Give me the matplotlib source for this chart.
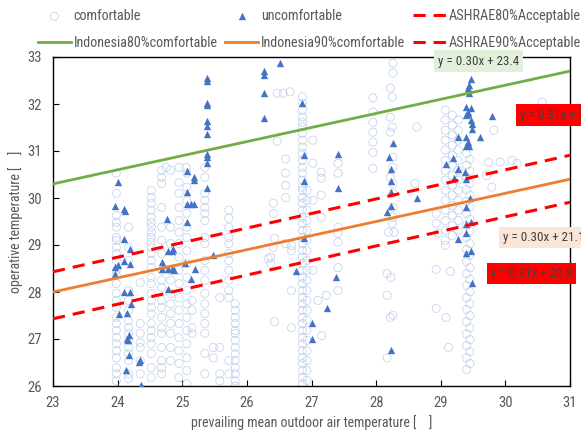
import matplotlib
matplotlib.use("Agg")
import matplotlib.pyplot as plt
from matplotlib import font_manager as fm
import numpy as np

names = {f.name for f in fm.fontManager.ttflist}
FAM = next((f for f in ['Liberation Sans Narrow', 'Roboto Condensed', 'Roboto', 'DejaVu Sans'] if f in names), 'DejaVu Sans')
plt.rcParams['font.family'] = [FAM, 'DejaVu Sans']

# ---------------- data ----------------
# comfortable votes: strips of (prevailing outdoor temp) -> operative temps
strip_x = [23.98, 24.17, 24.35, 24.52, 24.68, 24.82, 24.95, 25.07, 25.15, 25.35,
           25.48, 25.58, 25.72, 25.82, 26.86, 26.93, 27.41, 27.95, 29.07, 29.18,
           29.27, 29.40, 29.45]
s_2398 = [30.53, 30.10, 29.63, 29.48, 29.38, 29.16, 29.10, 28.95, 28.82, 28.67, 28.46, 28.35, 28.18,
          27.97, 27.82, 27.67, 27.46, 27.33, 27.18, 27.03, 26.90, 26.75, 26.60, 26.39, 26.26, 26.11]
s_2417 = [29.38, 28.95, 28.67, 28.03, 27.82, 27.61, 27.39, 27.24, 27.12, 26.97, 26.82, 26.69, 26.54, 26.26, 26.16]
s_2435 = [28.20, 27.33, 27.12, 26.92, 26.82, 26.54, 26.26]
s_2452 = [30.16, 30.01, 29.89, 29.74, 29.59, 29.48, 29.38, 29.27, 29.16, 29.06, 28.95, 28.82, 28.67, 28.52,
          28.31, 28.18, 27.97, 27.82, 27.67, 27.54, 27.33, 27.18, 27.03, 26.90, 26.69, 26.39, 26.18]
s_2468 = [30.59, 30.44, 30.31, 29.80, 29.38, 29.10, 28.82, 28.46, 28.25, 28.10, 27.82, 27.67, 27.46, 27.24,
          27.12, 26.82, 26.54, 26.39, 26.26]
s_2482 = [30.59, 29.38, 29.03, 28.46, 28.25, 27.97, 27.75, 27.54, 27.33, 27.12, 26.82, 26.54]
s_2495 = [30.65, 30.33, 30.10, 29.80, 29.52, 29.27, 29.03, 28.74, 28.46, 28.18, 27.88, 27.61, 27.33, 27.03,
          26.75, 26.48, 26.18]
s_2507 = [30.53, 30.23, 29.95, 29.67, 29.38, 29.16, 28.88, 28.61, 28.31, 28.03, 27.75, 27.46, 27.18, 26.90,
          26.60, 26.33, 26.05]
s_2515 = [27.82, 27.61, 27.24, 27.12]
s_2535 = [30.65, 30.44, 30.10, 29.95, 29.80, 29.67, 29.52, 29.16, 29.03, 28.67, 28.46, 28.25, 27.97, 27.75,
          27.54, 27.33, 27.12, 26.69, 26.26]
s_2548 = [26.82, 26.60]
s_2558 = [27.88, 26.82, 26.26, 26.11]
s_2572 = [29.74, 29.57, 29.38, 29.16, 29.03, 28.82, 28.67, 28.46, 28.25, 28.03, 27.88, 26.54, 26.26]
s_2582 = [27.75, 27.61, 27.46, 27.33, 27.18, 27.12, 26.97, 26.82, 26.69, 26.54, 26.39, 26.26, 26.11, 26.00]
s_2686 = [32.15, 32.02, 31.87, 31.72, 31.61, 31.51, 31.38, 31.23, 31.08, 30.95, 30.80, 30.65, 30.53, 30.38,
          30.23, 30.16, 30.01, 29.89, 29.74, 29.59, 29.46, 29.31, 29.16, 29.03, 28.88, 28.74, 28.61, 28.46,
          28.31, 28.18, 28.03, 27.88, 27.75, 27.61, 27.46, 27.33, 27.18, 27.03, 26.90, 26.75, 26.60, 26.48,
          26.33, 26.18, 26.05]
s_2693 = [30.16, 29.95, 29.74, 29.52, 29.31, 29.10, 28.88, 28.67, 28.46, 28.25, 28.03, 27.82, 27.61, 27.40,
          27.18, 26.97, 26.75, 26.54, 26.33, 26.12]
s_2741 = [30.74, 30.53, 29.38, 29.25, 29.06, 28.52, 28.03]
s_2795 = [32.13, 31.83, 31.61, 31.40, 31.19, 30.97, 30.63]
s_2907 = [31.87, 31.66, 31.44, 31.23, 31.02, 30.80, 30.59, 30.38, 30.16, 29.95, 29.74, 29.52, 29.31, 29.10, 28.99]
s_2918 = [31.76, 31.55, 31.34, 31.12, 30.91, 30.70, 30.48, 30.27, 30.06, 29.84, 29.63, 29.42, 29.20]
s_2927 = [31.66, 31.44, 31.23, 31.02, 30.80, 30.59, 30.38, 30.16, 29.95, 29.74, 29.52, 29.31]
s_2940 = [30.95, 30.70, 30.44, 30.18, 29.93, 29.67, 29.42, 29.16, 28.91, 28.65, 28.39, 28.14, 27.88, 27.63,
          27.37, 27.11, 26.86, 26.60, 26.35]
s_2945 = [30.82, 30.57, 30.31, 30.06, 29.80, 29.55, 29.29, 29.03, 28.78, 28.52, 28.27, 28.01, 27.75, 27.50,
          27.24, 26.99, 26.73, 26.48]
strip_y = [s_2398, s_2417, s_2435, s_2452, s_2468, s_2482, s_2495, s_2507, s_2515, s_2535,
           s_2548, s_2558, s_2572, s_2582, s_2686, s_2693, s_2741, s_2795, s_2907, s_2918,
           s_2927, s_2940, s_2945]

# scattered comfortable points
extra_x = [26.33, 26.41, 26.41, 26.43, 26.41, 26.37, 26.37, 26.47, 26.43, 26.60, 26.60, 26.60, 26.60, 26.60,
           26.69, 26.69, 26.69, 26.69, 26.47, 26.56, 26.67, 27.02, 27.02, 27.15, 27.15, 27.15, 27.02, 27.15,
           27.02, 27.10, 27.23, 27.16, 28.26, 28.26, 28.22, 28.25, 28.22, 28.25, 28.22, 28.26, 28.26, 28.22,
           28.26, 28.26, 28.26, 28.26, 28.25, 28.19, 28.28, 28.17, 28.23, 28.17, 28.26, 28.22, 28.17, 28.63,
           28.60, 28.93, 28.93, 28.96, 28.93, 28.93, 29.08, 29.12, 29.15, 29.82, 29.74, 29.92, 29.71, 29.79,
           30.57, 30.57, 30.10, 30.18, 25.06, 24.75]
extra_y = [28.71, 29.89, 29.67, 29.14, 28.95, 28.74, 28.61, 31.21, 27.37, 30.83, 30.53, 30.27, 30.01, 29.03,
           28.99, 28.88, 28.03, 27.24, 32.23, 32.23, 32.26, 31.23, 30.74, 30.55, 30.42, 30.06, 29.95, 29.59,
           28.46, 27.82, 27.93, 27.07, 32.87, 32.66, 32.34, 32.15, 31.72, 31.51, 31.40, 30.87, 30.65, 30.44,
           30.31, 30.10, 29.80, 29.59, 29.46, 29.27, 29.27, 28.39, 28.31, 27.93, 27.50, 27.46, 26.60, 31.51,
           30.31, 29.67, 29.46, 29.25, 28.48, 27.65, 27.46, 26.82, 28.44, 31.44, 30.76, 30.76, 30.48, 30.23,
           32.04, 31.76, 30.80, 30.74, 30.65, 30.65]

# uncomfortable votes
unc_x = [24.01, 23.96, 24.10, 24.11, 24.10, 24.19, 24.10, 23.96, 24.01, 24.19, 23.96, 24.10, 24.19, 24.21,
         24.02, 24.15, 24.18, 24.15, 24.16, 24.18, 24.13, 24.33, 24.35, 24.36, 24.76, 24.78, 24.69, 24.78,
         24.84, 24.78, 24.84, 24.69, 25.38, 25.07, 25.18, 25.18, 25.07, 25.38, 25.07, 25.14, 25.18, 25.07,
         24.86, 25.04, 24.87, 25.20, 25.14, 25.48, 25.38, 25.38, 25.38, 25.38, 25.38, 25.38, 25.38, 25.38,
         25.38, 26.51, 26.27, 26.27, 26.27, 26.27, 26.85, 26.89, 27.41, 26.89, 27.41, 26.89, 26.76, 27.38,
         27.24, 27.01, 27.01, 28.26, 28.20, 28.23, 28.23, 28.23, 28.23, 28.17, 28.23, 29.47, 29.44, 29.42,
         29.44, 29.39, 29.47, 29.42, 29.39, 29.42, 29.47, 29.49, 29.49, 29.80, 29.27, 29.39, 29.42, 29.39,
         29.44, 29.61, 29.19, 29.08, 29.27, 29.38, 29.21, 29.39, 28.63, 29.46, 29.39, 29.39, 29.47, 29.39,
         29.27, 29.39, 29.47, 29.49]
unc_y = [30.33, 29.82, 29.76, 29.72, 29.12, 28.91, 28.65, 28.54, 28.57, 28.59, 28.39, 28.01, 27.99, 27.75,
         27.54, 27.56, 27.09, 27.01, 26.97, 26.67, 26.35, 26.52, 26.56, 26.03, 29.55, 28.88, 28.63, 28.50,
         28.50, 28.07, 28.88, 28.48, 30.74, 30.57, 30.44, 30.38, 30.12, 30.21, 29.87, 29.87, 29.87, 29.48,
         28.91, 28.61, 28.46, 28.48, 28.27, 28.78, 32.55, 32.49, 32.02, 31.98, 31.64, 31.53, 31.36, 30.93,
         30.87, 32.87, 32.70, 32.62, 32.23, 31.70, 32.02, 30.91, 30.93, 30.36, 30.21, 29.14, 28.44, 28.31,
         27.65, 27.35, 26.99, 31.17, 30.87, 30.61, 30.36, 30.12, 29.84, 29.70, 26.77, 32.53, 32.40, 32.34,
         32.23, 31.93, 31.91, 31.83, 31.76, 31.78, 31.66, 31.57, 31.46, 31.74, 31.29, 31.29, 31.19, 31.10,
         31.10, 31.29, 30.85, 30.72, 30.61, 30.55, 30.42, 30.40, 30.01, 30.01, 29.80, 29.44, 29.50, 29.25,
         29.12, 28.84, 28.88, 28.20]

# regression / comfort band lines: (slope, intercept)
x_range = [23, 31]
indo80 = (0.30, 23.4)
indo90 = (0.30, 21.1)
ashrae80 = (0.31, 21.3)
ashrae90 = (0.31, 20.3)

# ---------------- plot ----------------
W, H = 581, 432
fig = plt.figure(figsize=(W / 100, H / 100), dpi=100)
L, R, T, B = 53, 570, 57, 386
ax = fig.add_axes([L / W, 1 - B / H, (R - L) / W, (B - T) / H])

cx = np.concatenate([np.full(len(ys), x) for x, ys in zip(strip_x, strip_y)] + [np.array(extra_x)])
cy = np.concatenate([np.array(ys) for ys in strip_y] + [np.array(extra_y)])

GRAY = '#595959'
ax.scatter(cx, cy, s=34, facecolors='none', edgecolors='#b4c7e7', linewidths=0.6, alpha=0.75,
           label='comfortable', zorder=2)
ax.scatter(unc_x, unc_y, s=28, marker='^', color='#4472c4', linewidths=0, label='uncomfortable', zorder=3)

xr = np.array(x_range, dtype=float)
l_g, = ax.plot(xr, indo80[0] * xr + indo80[1], color='#70ad47', lw=2, label='Indonesia80%comfortable', zorder=4)
l_o, = ax.plot(xr, indo90[0] * xr + indo90[1], color='#ed7d31', lw=2, label='Indonesia90%comfortable', zorder=4)
l_r1, = ax.plot(xr, ashrae80[0] * xr + ashrae80[1], color='#ff0000', lw=2.2, ls=(0, (4, 2.6)),
                label='ASHRAE80%Acceptable', zorder=4)
l_r2, = ax.plot(xr, ashrae90[0] * xr + ashrae90[1], color='#ff0000', lw=2.2, ls=(0, (4, 2.6)),
                label='ASHRAE90%Acceptable', zorder=4)

ax.set_xlim(23, 31)
ax.set_ylim(26, 33)
ax.set_xticks(range(23, 32))
ax.set_yticks(range(26, 34))
ax.tick_params(direction='in', length=4, width=0.8, colors='black', labelcolor=GRAY, labelsize=10.5)
ax.tick_params(axis='x', pad=7)
ax.tick_params(axis='y', pad=8)
for s in ax.spines.values():
    s.set_color('black')
    s.set_linewidth(1.0)
ax.set_xlabel('prevailing mean outdoor air temperature [    ]', color=GRAY, fontsize=10, labelpad=4)
ax.set_ylabel('operative temperature [    ]', color=GRAY, fontsize=10, labelpad=3)

# equation boxes (pixel positions of text start / centre)
def eqbox(px, py, text, fc):
    ax.text((px - L) / (R - L), (B - py) / (B - T), text, transform=ax.transAxes, ha='left', va='center',
            fontsize=9.4, color='#404040', clip_on=False, zorder=6,
            bbox=dict(boxstyle='square,pad=0.32', fc=fc, ec='none'))

eqbox(438, 61, 'y = 0.30x + 23.4', '#e2efda')
eqbox(520, 115, 'y = 0.31x + 21.3', '#ff0000')
eqbox(503, 237.5, 'y = 0.30x + 21.1', '#fbe5d6')
eqbox(491, 273.5, 'y = 0.31x + 20.3', '#ff0000')

handles = [ax.collections[0], l_g, ax.collections[1], l_o, l_r1, l_r2]
labels = [h.get_label() for h in handles]
fig.legend(handles, labels, ncol=3, loc='upper left', bbox_to_anchor=(38 / W, 1 - 9 / H),
           frameon=False, fontsize=10.2, labelcolor=GRAY, handlelength=2.3, handletextpad=0.22,
           columnspacing=0.55, labelspacing=0.95, borderpad=0, borderaxespad=0)

fig.savefig('out.png', dpi=100)
